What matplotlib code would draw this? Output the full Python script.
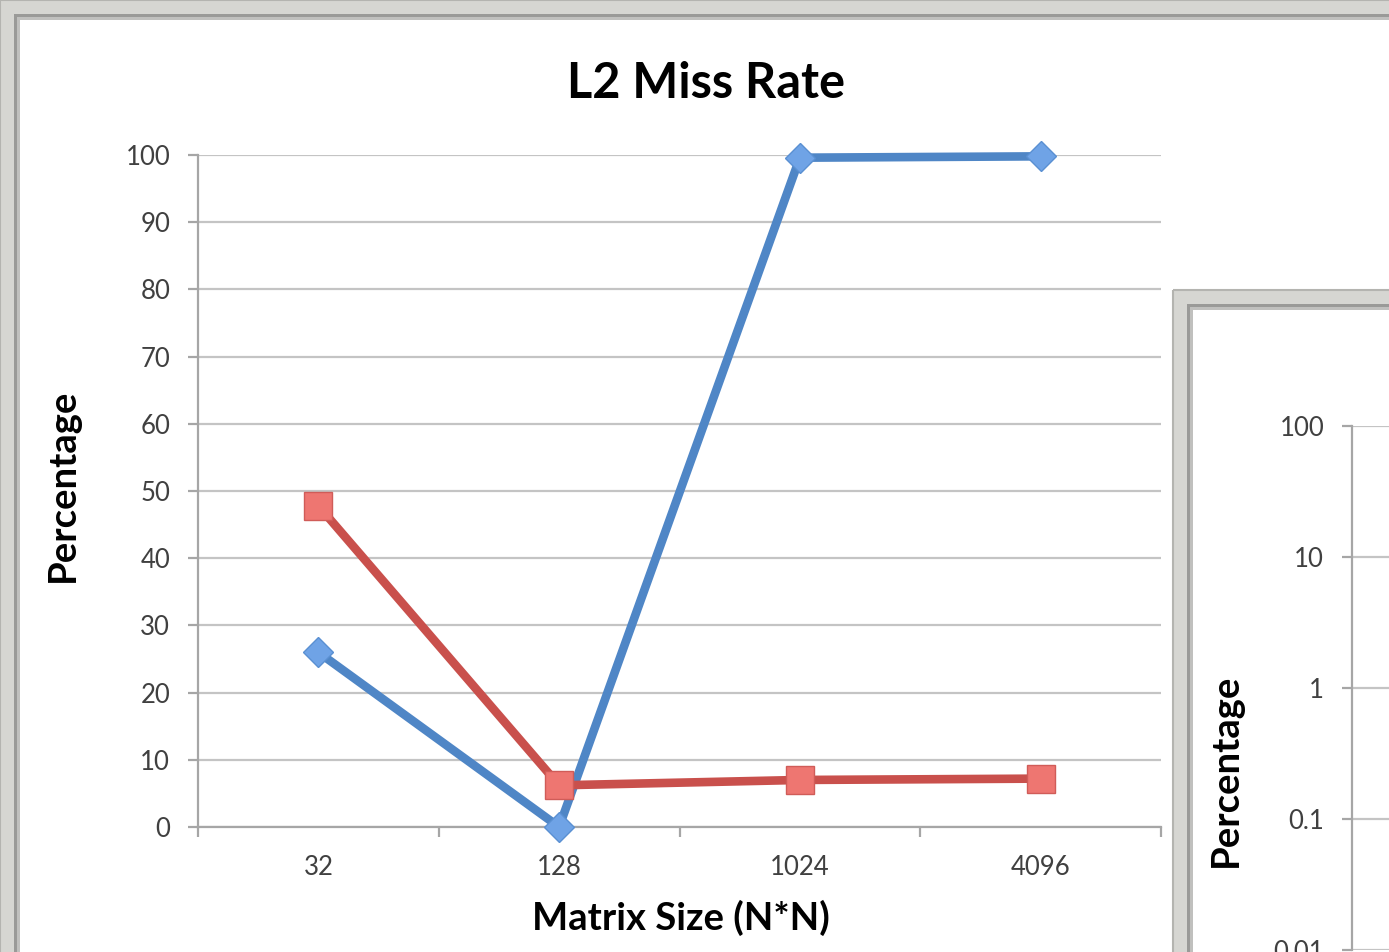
import matplotlib
matplotlib.use("Agg")
import matplotlib.pyplot as plt
from matplotlib.patches import Rectangle
import numpy as np

plt.rcParams['font.family'] = ['Lato', 'DejaVu Sans']

# ---- data ----
categories = ["32", "128", "1024", "4096"]
series_blue = [26.0, 0.0, 99.6, 99.8]
series_red = [47.8, 6.2, 7.0, 7.2]
y_ticks = [0, 10, 20, 30, 40, 50, 60, 70, 80, 90, 100]
log_ticks = [0.01, 0.1, 1, 10, 100]
log_tick_labels = ["0.01", "0.1", "1", "10", "100"]

W, H = 1389, 952
fig = plt.figure(figsize=(W / 100, H / 100), dpi=100)
fig.patch.set_facecolor("white")

def fx(px):
    return px / W

def fy(py):
    return 1 - py / H

# background layer in pixel coordinates for the window frames
bg = fig.add_axes([0, 0, 1, 1], zorder=0)
bg.set_xlim(0, W)
bg.set_ylim(H, 0)
bg.axis("off")

def frame(x0, y0, x1, y1):
    # light bevel, darker inner line, white panel
    bg.add_patch(Rectangle((x0, y0), x1 - x0, y1 - y0, facecolor="#d6d6d2", edgecolor="none"))
    bg.add_patch(Rectangle((x0, y0), x1 - x0, y1 - y0, facecolor="none", edgecolor="#b4b4b0", lw=1.5))
    bg.add_patch(Rectangle((x0 + 14, y0 + 14), x1 - x0 - 14, y1 - y0 - 14, facecolor="#9a9a98", edgecolor="none"))
    bg.add_patch(Rectangle((x0 + 17, y0 + 17), x1 - x0 - 17, y1 - y0 - 17, facecolor="#c0c0be", edgecolor="none"))
    bg.add_patch(Rectangle((x0 + 20, y0 + 20), x1 - x0 - 20, y1 - y0 - 20, facecolor="white", edgecolor="none"))

frame(0, 0, W + 40, H + 40)
frame(1173, 290, W + 40, H + 40)

grid_c = "#c4c4c4"
axis_c = "#a6a6a6"
tick_c = "#404040"
tick_fs = 18.5
label_fs = 27.5

# ---- main chart ----
ax = fig.add_axes([fx(198), fy(827), fx(1161) - fx(198), fy(155) - fy(827)], zorder=2)
ax.set_facecolor("none")
x = np.arange(len(categories))
ax.set_xlim(-0.5, len(categories) - 0.5)
ax.set_ylim(0, 100)
ax.set_yticks(y_ticks)
ax.set_yticklabels([str(t) for t in y_ticks])
ax.yaxis.grid(True, color=grid_c, lw=1.6)
ax.set_axisbelow(True)
for s in ["top", "right"]:
    ax.spines[s].set_visible(False)
for s in ["left", "bottom"]:
    ax.spines[s].set_color(axis_c)
    ax.spines[s].set_linewidth(1.6)
ax.tick_params(axis="y", direction="out", length=7, width=1.6, color=axis_c,
               labelsize=tick_fs, labelcolor=tick_c, pad=13)
ax.set_xticks(np.arange(-0.5, len(categories), 1.0))
ax.set_xticklabels([])
ax.set_xticks(x, minor=True)
ax.set_xticklabels(categories, minor=True)
ax.tick_params(axis="x", which="major", direction="out", length=7, width=1.6, color=axis_c)
ax.tick_params(axis="x", which="minor", length=0, labelsize=tick_fs, labelcolor=tick_c, pad=20)

ax.plot(x, series_blue, color="#4f86c6", lw=6.2, marker="D", ms=15.5,
        markerfacecolor="#6fa3e6", markeredgecolor="#5a90d2", markeredgewidth=1.0,
        solid_joinstyle="miter", zorder=3, clip_on=False)
ax.plot(x, series_red, color="#c9504c", lw=6.2, marker="s", ms=20.5,
        markerfacecolor="#ee7671", markeredgecolor="#d05c58", markeredgewidth=1.0,
        solid_joinstyle="miter", zorder=4, clip_on=False)

fig.text(fx(706), fy(84), "L2 Miss Rate", ha="center", va="center",
         fontsize=35, fontweight="bold", color="black")
fig.text(fx(681), fy(918), "Matrix Size (N*N)", ha="center", va="center",
         fontsize=label_fs, fontweight="bold", color="black")
fig.text(fx(63), fy(485), "Percentage", ha="center", va="center", rotation=90,
         fontsize=label_fs, fontweight="bold", color="black")

# ---- second chart (log scale), partially visible ----
ax2 = fig.add_axes([fx(1352), fy(950), 0.2, fy(426) - fy(950)], zorder=3)
ax2.set_facecolor("none")
ax2.set_yscale("log")
ax2.set_ylim(0.01, 100)
ax2.set_xlim(0, 1)
ax2.set_yticks(log_ticks)
ax2.set_yticklabels(log_tick_labels)
ax2.minorticks_off()
ax2.set_xticks([])
ax2.yaxis.grid(True, color=grid_c, lw=1.6)
for s in ["top", "right", "bottom"]:
    ax2.spines[s].set_visible(False)
ax2.spines["left"].set_color(axis_c)
ax2.spines["left"].set_linewidth(1.6)
ax2.tick_params(axis="y", direction="out", length=7, width=1.6, color=axis_c,
                labelsize=tick_fs, labelcolor=tick_c, pad=13)

fig.text(fx(1226), fy(770), "Percentage", ha="center", va="center", rotation=90,
         fontsize=label_fs, fontweight="bold", color="black")

fig.savefig("out.png", dpi=100)
